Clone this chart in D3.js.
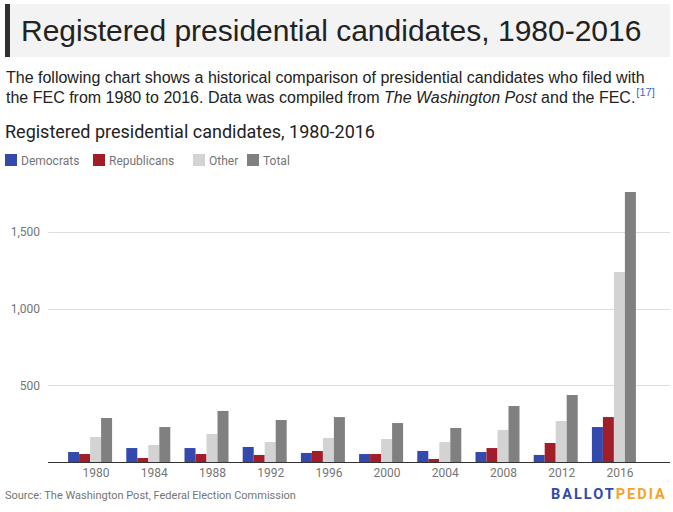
<!DOCTYPE html>
<html>
<head>
<meta charset="utf-8">
<script src="https://cdn.jsdelivr.net/npm/d3@7/dist/d3.min.js"></script>
<style>
  html, body { margin: 0; padding: 0; background: #fff; }
  svg { display: block; }
</style>
</head>
<body>
<script>
const years = ["1980","1984","1988","1992","1996","2000","2004","2008","2012","2016"];
const seriesNames = ["Democrats","Republicans","Other","Total"];
const democrats   = [65, 91, 91, 98, 59, 52, 72, 65, 46, 228];
const republicans = [52, 26, 52, 46, 72, 52, 20, 91, 124, 293];
const other       = [163, 111, 183, 130, 157, 150, 130, 209, 267, 1239];
const total       = [287, 228, 333, 274, 293, 254, 222, 365, 437, 1761];
const yTicks = [500, 1000, 1500];
const colors = ["#3349ae", "#a11d27", "#d3d3d3", "#808080"];

const W = 673, H = 512;
const svg = d3.select("body").append("svg").attr("width", W).attr("height", H);

// Header box
svg.append("rect").attr("x", 5).attr("y", 4).attr("width", 665).attr("height", 53).attr("fill", "#f3f3f3");
svg.append("rect").attr("x", 5).attr("y", 4).attr("width", 5).attr("height", 53).attr("fill", "#2f3033");
svg.append("text").attr("x", 21).attr("y", 41)
  .attr("font-family", "'Liberation Sans', Arial, sans-serif").attr("font-size", 30)
  .attr("fill", "#222").text("Registered presidential candidates, 1980-2016");

// Paragraph
const pFont = "'Liberation Sans', Arial, sans-serif";
svg.append("text").attr("x", 6).attr("y", 83).attr("font-family", pFont).attr("font-size", 16).attr("fill", "#222")
  .text("The following chart shows a historical comparison of presidential candidates who filed with");
const p2 = svg.append("text").attr("x", 6).attr("y", 103).attr("font-family", pFont).attr("font-size", 16).attr("fill", "#222");
p2.append("tspan").text("the FEC from 1980 to 2016. Data was compiled from ");
p2.append("tspan").attr("font-style", "italic").text("The Washington Post");
p2.append("tspan").text(" and the FEC.");
p2.append("tspan").attr("font-size", 11).attr("dy", -7).attr("dx", 1).attr("fill", "#3366cc").text("[17]");

// Chart title
svg.append("text").attr("x", 5).attr("y", 138).attr("font-family", "Roboto, sans-serif").attr("font-size", 18)
  .attr("fill", "#222").text("Registered presidential candidates, 1980-2016");

// Legend
const legendX = [5, 93, 193, 247];
const lg = svg.append("g");
seriesNames.forEach((n, i) => {
  lg.append("rect").attr("x", legendX[i]).attr("y", 154).attr("width", 12).attr("height", 12).attr("fill", colors[i]);
  lg.append("text").attr("x", legendX[i] + 16).attr("y", 164.5).attr("font-family", "Roboto, sans-serif")
    .attr("font-size", 12).attr("fill", "#757575").text(n);
});

// Scales
const y = d3.scaleLinear().domain([0, 1500]).range([462, 232]);
const x0 = d3.scaleBand().domain(years).range([61, 643]).paddingInner(0.244).paddingOuter(0.122);
const x1 = d3.scaleBand().domain(seriesNames).range([0, x0.bandwidth()]).padding(0);

// Gridlines
svg.append("g").selectAll("line").data(yTicks).join("line")
  .attr("x1", 48).attr("x2", 670).attr("y1", d => Math.round(y(d)) + 0.5).attr("y2", d => Math.round(y(d)) + 0.5)
  .attr("stroke", "#dddddd").attr("stroke-width", 1);

// Y axis labels
const yAxis = d3.axisLeft(y).tickValues(yTicks).tickSize(0).tickPadding(0).tickFormat(d3.format(","));
const gy = svg.append("g").attr("transform", "translate(40,0)").call(yAxis);
gy.select(".domain").remove();
gy.selectAll("text").attr("font-family", "Roboto, sans-serif").attr("font-size", 12).attr("fill", "#757575");

// Bars
const data = years.map((yr, i) => ({ year: yr, values: [democrats[i], republicans[i], other[i], total[i]] }));
const groups = svg.append("g").selectAll("g").data(data).join("g")
  .attr("transform", d => `translate(${x0(d.year)},0)`);
groups.selectAll("rect").data(d => d.values.map((v, i) => ({ key: seriesNames[i], v, i }))).join("rect")
  .attr("x", d => x1(d.key)).attr("width", x1.bandwidth())
  .attr("y", d => y(d.v)).attr("height", d => y(0) - y(d.v))
  .attr("fill", d => colors[d.i]);

// Baseline
svg.append("line").attr("x1", 48).attr("x2", 670).attr("y1", 462.5).attr("y2", 462.5)
  .attr("stroke", "#333").attr("stroke-width", 1);

// X axis labels
const xAxis = d3.axisBottom(x0).tickSize(0).tickPadding(5);
const gx = svg.append("g").attr("transform", "translate(6,463)").call(xAxis);
gx.select(".domain").remove();
gx.selectAll("text").attr("font-family", "Roboto, sans-serif").attr("font-size", 12).attr("fill", "#757575");

// Footer
svg.append("text").attr("x", 5).attr("y", 499).attr("font-family", "Roboto, sans-serif").attr("font-size", 11)
  .attr("fill", "#757575").text("Source: The Washington Post, Federal Election Commission");
const logo = svg.append("text").attr("x", 551).attr("y", 499)
  .attr("font-family", "Roboto, sans-serif").attr("font-size", 14.5).attr("font-weight", "bold").attr("letter-spacing", 2);
logo.append("tspan").attr("fill", "#3349ab").text("BALLOT");
logo.append("tspan").attr("fill", "#f5a32a").text("PEDIA");
</script>
</body>
</html>
